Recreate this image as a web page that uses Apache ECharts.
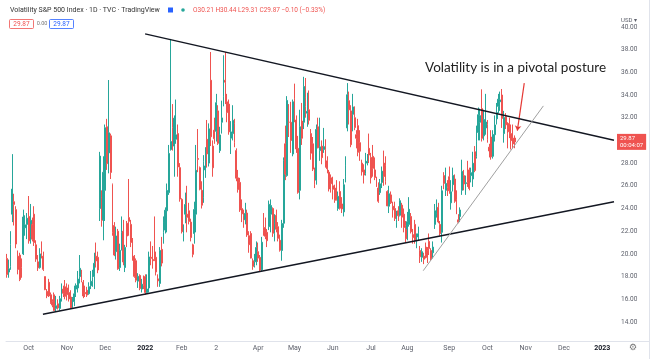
<!DOCTYPE html>
<html><head><meta charset="utf-8">
<script src="https://cdn.jsdelivr.net/npm/echarts@6/dist/echarts.min.js"></script>
<style>html,body{margin:0;padding:0;background:#fff}#c{width:654px;height:359px}</style>
</head><body><div id="c"></div>
<script>
// rows: [day, open, close, low, high]
const sep2021 = [[15,19.6,18.18,17.9,20.0],[16,18.4,18.69,17.9,19.5],[17,18.9,20.81,18.6,22.0],[20,23.5,25.71,22.8,28.79],[21,24.6,24.36,22.5,25.3],[22,23.9,20.87,20.5,24.2],[23,19.8,18.63,18.2,20.3],[24,19.9,17.75,17.6,20.1],[27,18.8,18.76,17.9,19.6],[28,20.0,23.25,19.9,23.9],[29,22.3,22.56,21.6,23.4],[30,22.6,23.14,21.3,23.6]];
const oct2021 = [[1,23.3,21.15,20.9,25.1],[4,21.5,22.96,20.9,24.4],[5,22.6,21.30,21.1,23.2],[6,23.5,21.00,20.7,24.2],[7,20.8,19.54,19.3,21.2],[8,19.3,18.77,18.5,19.9],[11,18.8,20.00,18.7,20.5],[12,20.1,19.85,19.6,21.1],[13,19.8,18.64,18.5,20.2],[14,18.0,16.86,16.8,18.0],[15,16.7,16.30,16.1,16.9],[18,17.5,16.30,16.2,17.8],[19,16.4,15.70,15.6,16.6],[20,15.8,15.49,15.3,16.0],[21,16.4,15.01,15.0,16.6],[22,15.2,15.43,14.9,16.3],[25,15.6,15.24,15.1,16.0],[26,15.2,16.05,15.0,16.3],[27,16.1,16.98,15.8,17.4],[28,16.9,16.53,16.2,17.2],[29,17.1,16.26,16.0,17.7]];
const nov2021 = [[1,17.0,16.41,15.9,17.4],[2,16.6,16.03,15.8,17.3],[3,16.2,15.25,15.2,16.8],[4,15.3,16.03,15.2,16.2],[5,15.8,16.48,15.4,17.2],[8,16.9,17.22,16.2,17.4],[9,17.0,17.78,16.6,18.5],[10,18.0,18.73,17.4,19.9],[11,18.2,17.66,17.5,18.6],[12,17.5,16.29,16.1,17.7],[15,16.6,16.49,16.2,17.2],[16,16.8,16.37,16.2,17.1],[17,16.5,17.11,16.4,17.5],[18,17.2,17.59,16.9,18.5],[19,17.6,17.91,17.1,18.6],[22,18.0,19.17,16.9,20.1],[23,19.8,19.38,18.8,21.0],[24,19.7,18.58,18.3,20.2],[26,24.0,28.62,22.9,28.99],[29,25.0,22.96,22.4,25.6],[30,23.0,27.19,21.2,28.6]];
const dec2021 = [[1,25.6,31.12,22.9,31.4],[2,31.2,27.95,27.4,31.9],[3,28.9,30.67,27.1,35.32],[6,30.4,27.18,26.6,30.6],[7,26.1,21.89,21.6,26.2],[8,22.5,19.90,19.8,22.8],[9,20.2,21.58,19.5,22.4],[10,22.0,18.69,18.6,22.2],[13,18.8,20.31,18.5,20.9],[14,21.4,21.89,20.3,23.3],[15,22.0,19.29,19.0,23.0],[16,18.8,20.57,18.4,20.8],[17,22.7,21.57,20.6,22.9],[20,23.2,22.87,21.6,26.6],[21,22.6,21.01,20.6,23.0],[22,21.3,19.65,19.4,21.4],[23,19.8,18.02,17.9,19.9],[27,19.4,17.68,17.5,19.6],[28,17.6,18.02,17.0,18.3],[29,18.1,16.95,16.8,18.2],[30,16.9,17.33,16.6,17.8],[31,17.3,17.22,16.9,18.1]];
const jan2022 = [[3,18.0,16.60,16.4,18.2],[4,16.6,16.91,16.5,18.2],[5,17.0,19.73,16.6,20.2],[6,19.7,19.61,19.0,21.1],[7,19.9,18.76,18.7,20.7],[10,19.5,19.40,19.4,23.3],[11,19.7,18.41,18.1,20.2],[12,17.8,17.62,17.1,18.2],[13,17.4,20.31,17.1,20.6],[14,20.4,19.19,18.9,21.5],[18,21.9,22.79,20.9,23.3],[19,22.1,23.85,21.8,24.1],[20,23.8,25.59,21.9,26.2],[21,25.4,28.85,25.2,29.6],[24,29.2,29.90,29.1,38.94],[25,31.6,31.16,29.1,33.2],[26,29.5,31.96,26.8,32.2],[27,30.1,30.49,29.7,33.6],[28,30.6,27.66,26.8,31.4],[31,27.6,24.83,24.6,28.0]];
const feb2022 = [[1,24.8,21.96,21.8,24.9],[2,21.8,22.09,21.1,22.6],[3,23.5,24.35,22.7,25.4],[4,23.5,23.22,21.9,26.0],[7,23.8,22.86,22.6,24.5],[8,22.8,21.44,21.1,23.1],[9,20.8,19.96,19.7,20.9],[10,21.8,23.91,20.9,24.6],[11,23.5,27.36,21.9,29.6],[14,28.4,28.33,27.2,31.0],[15,27.6,25.70,25.6,27.7],[16,25.6,24.29,24.0,26.4],[17,25.0,28.11,24.5,28.7],[18,27.4,27.75,26.7,29.4],[22,30.1,28.81,27.6,31.8],[23,28.0,31.02,27.7,31.5],[24,35.3,30.32,29.5,37.79],[25,29.5,27.59,26.8,30.0],[28,30.9,30.15,29.7,32.0]];
const mar2022 = [[1,30.8,33.32,29.9,34.1],[2,32.6,29.74,29.6,33.1],[3,29.1,30.48,28.9,31.2],[4,31.6,31.98,30.6,33.5],[7,33.9,36.45,33.0,37.5],[8,35.3,35.13,33.2,37.79],[9,33.4,32.45,31.6,34.1],[10,33.2,30.75,30.5,33.6],[11,30.2,30.75,28.8,31.7],[14,30.6,31.77,30.0,33.1],[15,31.5,29.83,29.4,31.9],[16,29.1,26.67,26.4,29.3],[17,26.7,25.67,25.4,27.4],[18,26.3,23.87,23.7,26.7],[21,24.0,23.53,22.8,24.8],[22,23.4,22.94,22.3,23.9],[23,23.0,23.57,22.6,24.5],[24,23.6,21.67,21.5,23.9],[25,21.6,20.81,20.1,22.0],[28,21.8,19.63,19.6,22.0],[29,19.4,18.90,18.6,19.6],[30,19.0,19.33,18.8,20.0],[31,19.3,20.56,19.0,21.1]];
const apr2022 = [[1,20.2,19.63,19.3,21.0],[4,19.7,18.57,18.5,19.9],[5,18.6,21.03,18.5,21.5],[6,22.3,22.10,21.6,23.6],[7,22.3,21.55,21.3,23.2],[8,21.9,21.16,20.6,22.2],[11,22.4,24.37,22.1,24.7],[12,23.5,24.26,21.9,24.8],[13,24.0,21.82,21.5,24.1],[14,21.8,22.70,21.1,23.5],[18,23.4,22.17,21.9,23.9],[19,22.4,21.37,21.1,22.8],[20,21.2,20.32,20.2,21.7],[21,20.3,22.68,19.4,23.0],[22,22.7,28.21,22.3,28.5],[25,29.7,27.02,26.5,31.3],[26,26.9,33.52,26.8,33.9],[27,31.6,31.60,30.3,33.2],[28,31.6,29.99,28.9,33.4],[29,28.8,33.40,28.6,33.6]];
const may2022 = [[2,33.7,32.34,31.6,35.0],[3,31.8,29.25,28.9,32.2],[4,29.3,25.42,25.3,30.4],[5,25.6,31.20,24.8,32.7],[6,31.7,30.19,29.6,33.3],[9,31.6,34.75,31.0,35.6],[10,33.8,32.99,32.0,35.5],[11,32.4,32.56,31.2,34.2],[12,32.7,31.77,31.4,34.4],[13,30.6,28.87,28.3,31.0],[16,29.7,27.47,27.3,30.3],[17,27.2,26.10,25.8,27.6],[18,26.5,30.96,26.1,31.4],[19,31.2,29.35,29.3,32.0],[20,29.1,29.43,28.2,32.0],[23,29.5,28.48,27.9,30.0],[24,29.2,29.45,28.9,31.1],[25,29.2,28.37,27.6,30.1],[26,28.2,27.50,27.1,28.6],[27,27.2,25.72,25.5,27.4],[31,26.7,26.19,25.4,27.0]];
const jun2022 = [[1,26.0,25.69,24.8,26.8],[2,25.8,24.72,24.5,26.1],[3,25.6,24.79,24.7,26.5],[6,24.0,25.07,23.8,25.5],[7,25.5,24.02,23.9,26.4],[8,24.4,23.96,23.6,25.0],[9,23.7,26.09,23.3,26.6],[10,26.8,27.75,26.3,28.6],[13,31.1,34.02,30.8,35.05],[14,33.5,32.69,31.4,34.3],[15,32.6,29.62,29.4,33.1],[16,32.3,32.95,30.8,34.1],[17,32.0,31.13,30.9,33.0],[21,30.5,30.19,29.3,30.9],[22,31.3,28.95,28.6,31.9],[23,29.8,29.05,28.2,30.9],[24,28.0,27.23,26.9,28.3],[27,27.4,26.95,26.2,27.9],[28,27.1,28.36,26.9,28.9],[29,28.0,28.16,27.8,28.8],[30,29.3,28.71,28.0,30.6]];
const jul2022 = [[1,28.5,26.70,26.2,28.9],[5,28.6,27.54,26.8,29.6],[6,27.4,26.73,26.5,28.5],[7,26.5,26.08,25.9,26.8],[8,25.8,24.64,24.5,26.3],[11,25.4,26.17,25.2,26.6],[12,26.3,27.29,25.8,27.7],[13,28.0,26.82,26.0,29.1],[14,27.8,26.40,26.1,28.6],[15,25.5,24.23,24.2,25.6],[18,24.2,25.30,23.6,26.0],[19,25.2,24.50,24.4,25.5],[20,24.2,23.88,23.2,24.6],[21,24.0,23.11,22.9,24.6],[22,22.8,23.03,22.3,23.8],[25,23.8,23.36,22.9,24.2],[26,23.4,24.69,23.3,24.9],[27,24.3,23.24,22.3,24.5],[28,23.5,22.33,21.9,24.0],[29,22.5,21.33,21.0,22.9]];
const aug2022 = [[1,22.2,22.84,21.2,23.7],[2,22.6,23.93,22.4,25.0],[3,23.3,21.95,21.8,23.6],[4,21.7,21.44,20.9,22.2],[5,22.6,21.15,20.9,23.0],[8,20.8,21.29,20.5,21.8],[9,21.5,21.77,21.2,22.4],[10,20.3,19.74,19.2,20.7],[11,19.7,20.20,19.3,20.5],[12,19.8,19.53,19.1,20.1],[15,20.6,19.95,19.6,21.0],[16,20.3,19.69,19.2,20.6],[17,21.1,20.47,19.9,21.8],[18,20.3,19.56,19.4,20.5],[19,20.1,20.60,19.6,21.1],[22,22.6,23.80,22.2,24.4],[23,23.6,24.11,23.2,24.8],[24,24.1,22.82,22.7,24.5],[25,22.6,21.78,21.6,22.9],[26,21.9,25.56,21.0,26.0],[29,26.9,26.21,25.7,27.2],[30,25.6,26.21,25.1,27.6],[31,25.9,25.87,25.1,26.5]];
const sep2022 = [[1,26.8,25.56,25.3,27.7],[2,24.5,25.47,23.9,26.5],[6,26.1,26.91,25.5,27.6],[7,26.6,24.64,24.5,27.0],[8,24.8,23.61,23.5,25.6],[9,23.0,22.79,22.7,23.5],[12,23.3,23.87,22.8,24.1],[13,25.6,27.27,25.2,28.3],[14,26.9,26.16,25.6,27.4],[15,26.2,26.27,25.2,26.9],[16,27.2,26.30,25.9,28.2],[19,27.4,25.76,25.6,27.6],[20,26.9,27.16,26.3,27.6],[21,26.6,27.99,25.9,29.0],[22,29.0,27.35,27.2,29.5],[23,28.6,29.92,28.4,31.3],[26,30.7,32.26,30.0,32.9],[27,31.6,32.18,30.0,32.8],[28,32.8,30.18,29.9,34.5],[29,30.4,31.84,30.0,32.7],[30,31.1,31.62,30.5,34.1]];
const oct2022 = [[3,31.4,30.10,29.8,31.8],[4,29.4,29.07,28.5,29.7],[5,30.3,28.55,28.3,30.9],[6,28.6,30.52,28.4,30.9],[7,30.5,31.36,29.9,32.2],[10,31.9,32.45,31.4,33.3],[11,33.0,33.63,32.4,34.1],[12,33.4,33.57,32.6,34.3],[13,34.0,31.94,31.1,34.53],[14,30.6,32.02,29.8,32.6],[17,32.1,31.37,31.0,32.4],[18,30.6,30.50,29.3,31.6],[19,31.5,30.76,30.2,32.0],[20,30.6,29.98,29.2,31.4],[21,30.2,29.69,29.3,31.4],[24,30.21,29.87,29.31,30.44]];
// future (empty) trading days shown on the time axis
const oct2022Future = [25,26,27,28,31];
const nov2022Days = [1,2,3,4,7,8,9,10,11,14,15,16,17,18,21,22,23,25,28,29,30];
const dec2022Days = [1,2,5,6,7,8,9,12,13,14,15,16,19,20,21,22,23,27,28,29,30];
const jan2023Days = [3,4,5,6,9,10,11];

// [year, month, tick label, rows]
const monthTable = [
  [2021,9,'',sep2021],[2021,10,'Oct',oct2021],[2021,11,'Nov',nov2021],[2021,12,'Dec',dec2021],
  [2022,1,'2022',jan2022],[2022,2,'Feb',feb2022],[2022,3,'2',mar2022],[2022,4,'Apr',apr2022],
  [2022,5,'May',may2022],[2022,6,'Jun',jun2022],[2022,7,'Jul',jul2022],[2022,8,'Aug',aug2022],
  [2022,9,'Sep',sep2022],[2022,10,'Oct',oct2022],[2022,10,'',oct2022Future],
  [2022,11,'Nov',nov2022Days],[2022,12,'Dec',dec2022Days],[2023,1,'2023',jan2023Days]
];
const yearLabels = ['2022','2023'];

// drawn annotation lines: [categoryIndex, value]
const upperLine = [[75.9,39.38],[333.5,30.01]];
const lowerLine = [[19.8,14.68],[333.5,24.59]];
const supportLine = [[228.7,18.52],[294.7,33.04]];
const arrowLine = [[284.2,35.04],[280.4,30.86]];
const priceTag = ['29.87','00:04:07'];

const categories = [], candles = [], tickAt = {};
monthTable.forEach(([y,m,label,rows]) => {
  rows.forEach((r,i) => {
    const d = Array.isArray(r) ? r[0] : r;
    if (i === 0 && label) tickAt[categories.length] = label;
    categories.push(y + '-' + String(m).padStart(2,'0') + '-' + String(d).padStart(2,'0'));
    if (Array.isArray(r)) candles.push([r[1], r[2], r[3], r[4]]);
  });
});
const lastClose = candles[candles.length-1][1];

const UP = '#26a69a', DOWN = '#ef5350';
const chart = echarts.init(document.getElementById('c'), null, {renderer:'canvas'});
const lineSeries = (data, color, width) => ({
  type:'line', xAxisIndex:1, yAxisIndex:0, data, symbol:'none', silent:true,
  lineStyle:{color, width}, z:5
});
chart.setOption({
  animation:false,
  backgroundColor:'#ffffff',
  grid:{left:6, width:608, top:4.2, bottom:14.3, containLabel:false},
  xAxis:[{
    type:'category', data:categories, boundaryGap:true, offset:-3,
    axisTick:{show:false}, splitLine:{show:false},
    axisLine:{show:true, lineStyle:{color:'#e0e3eb', width:1}},
    axisLabel:{
      interval:(idx) => tickAt[idx] !== undefined,
      margin:3, fontSize:7, color:'#5d606b', fontFamily:'Roboto',
      formatter:(v, idx) => {
        const t = tickAt[idx] || '';
        return yearLabels.includes(t) ? '{b|' + t + '}' : t;
      },
      rich:{b:{fontSize:7, fontWeight:'bold', color:'#131722', fontFamily:'Roboto'}}
    }
  },{
    type:'value', min:-0.5, max:categories.length - 0.5, show:false
  }],
  yAxis:{
    type:'value', position:'right', min:12, max:42, interval:2, scale:false,
    axisLine:{show:false}, axisTick:{show:false}, splitLine:{show:false},
    axisLabel:{
      margin:7, fontSize:6.5, color:'#5d606b', fontFamily:'Roboto',
      formatter:(v) => (v === 12 || v === 42) ? '' : v.toFixed(2)
    }
  },
  series:[
    {
      type:'candlestick', xAxisIndex:0, yAxisIndex:0, data:candles, barWidth:'75%',
      itemStyle:{color:UP, color0:DOWN, borderColor:UP, borderColor0:DOWN, borderWidth:1},
      markLine:{
        silent:true, symbol:'none',
        lineStyle:{width:0, color:'rgba(0,0,0,0)'},
        data:[{yAxis:lastClose}],
        label:{
          show:true, position:'end', distance:3,
          formatter:priceTag.join('\n'),
          backgroundColor:DOWN, color:'#fff', fontSize:6, lineHeight:7,
          padding:[1,3,1,3], fontFamily:'Roboto', opacity:1
        }
      }
    },
    lineSeries(upperLine, '#131722', 1.4),
    lineSeries(lowerLine, '#131722', 1.4),
    Object.assign(lineSeries(supportLine, '#a0a0a0', 1), {
      markLine:{
        silent:true, symbol:['none','arrow'], symbolSize:5,
        lineStyle:{color:'#e53935', width:1.2, type:'solid'},
        label:{show:false},
        data:[[{coord:arrowLine[0]},{coord:arrowLine[1]}]]
      }
    })
  ],
  graphic:[
    {type:'text', x:10, y:10, style:{text:'Volatility S&P 500 Index · 1D · TVC · TradingView', font:'7px Roboto', fill:'#333', verticalAlign:'middle'}},
    {type:'rect', shape:{x:168,y:7.5,width:5,height:5}, style:{fill:'#2962ff'}},
    {type:'circle', shape:{cx:183,cy:10,r:1.8}, style:{fill:UP}},
    {type:'text', x:193, y:10, style:{text:'O30.21 H30.44 L29.31 C29.87 −0.10 (−0.33%)', font:'6.5px Roboto', fill:DOWN, verticalAlign:'middle'}},
    {type:'rect', shape:{x:9.5,y:19.5,width:24,height:9,r:1}, style:{fill:'#fff', stroke:DOWN, lineWidth:0.8}},
    {type:'text', x:21.5, y:24, style:{text:'29.87', font:'6.5px Roboto', fill:DOWN, align:'center', verticalAlign:'middle'}},
    {type:'text', x:42, y:24, style:{text:'0.00', font:'5.5px Roboto', fill:'#777', align:'center', verticalAlign:'middle'}},
    {type:'rect', shape:{x:49.5,y:19.5,width:24,height:9,r:1}, style:{fill:'#fff', stroke:'#2962ff', lineWidth:0.8}},
    {type:'text', x:61.5, y:24, style:{text:'29.87', font:'6.5px Roboto', fill:'#2962ff', align:'center', verticalAlign:'middle'}},
    {type:'text', x:621, y:20, style:{text:'USD ▾', font:'6px Roboto', fill:'#5d606b', verticalAlign:'middle'}},
    {type:'text', x:425, y:68, style:{text:'Volatility is in a pivotal posture', font:'13.5px Lato', fill:'#222', verticalAlign:'middle'}},
    {type:'line', shape:{x1:614,y1:341.5,x2:649,y2:341.5}, style:{stroke:'#e0e3eb', lineWidth:1}},
    {type:'line', shape:{x1:649.5,y1:0,x2:649.5,y2:359}, style:{stroke:'#e0e3eb', lineWidth:1}},
    {type:'text', x:633, y:348, style:{text:'⚙', font:'9px DejaVu Sans', fill:'#777', align:'center', verticalAlign:'middle'}}
  ]
});
</script>
</body></html>
